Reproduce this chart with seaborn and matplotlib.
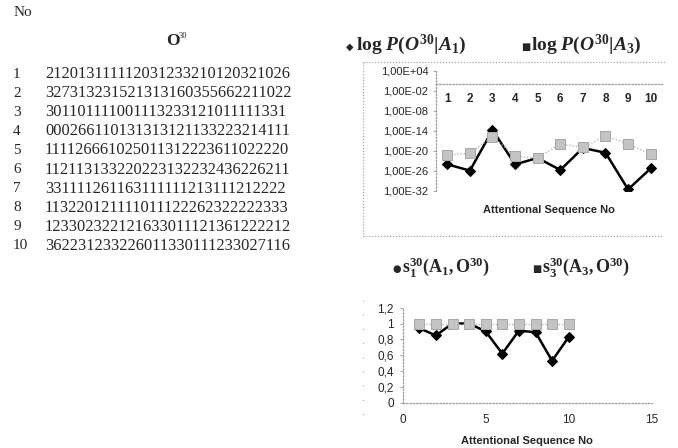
import matplotlib
matplotlib.use("Agg")
import matplotlib.pyplot as plt
from matplotlib.lines import Line2D
from matplotlib.ticker import FixedLocator, NullLocator
import seaborn as sns

# ---- data -------------------------------------------------------------
seq_no = [1, 2, 3, 4, 5, 6, 7, 8, 9, 10]

sequences = [
    "212013111112031233210120321026",
    "327313231521313160355662211022",
    "301101111001113233121011111331",
    "000266110131313121133223214111",
    "111126661025011312223611022220",
    "112113133220223132232436226211",
    "331111261163111111213111212222",
    "113220121111011122262322222333",
    "123302322121633011121361222212",
    "362231233226011330111233027116",
]

# log P(O^30 | A_1) and log P(O^30 | A_3)
p_a1 = [1e-24, 1.3e-26, 2e-14, 1e-24, 8e-23, 2e-26, 8e-20, 3e-21, 3e-32, 6e-26]
p_a3 = [6e-22, 2e-21, 2e-16, 2.5e-22, 8e-23, 1.3e-18, 1.3e-19, 3e-16, 1.3e-18, 1e-21]

# similarity scores s_1^30(A_1, O^30) and s_3^30(A_3, O^30)
s_a1 = [0.94, 0.85, 1.0, 1.0, 0.90, 0.62, 0.91, 0.89, 0.53, 0.83]
s_a3 = [1.0, 1.0, 1.0, 1.0, 1.0, 1.0, 1.0, 1.0, 1.0, 1.0]

log_ticks = [1e4, 1e-2, 1e-8, 1e-14, 1e-20, 1e-26, 1e-32]
log_tick_labels = ["1,00E+04", "1,00E-02", "1,00E-08", "1,00E-14",
                   "1,00E-20", "1,00E-26", "1,00E-32"]
s_ticks = [0, 0.2, 0.4, 0.6, 0.8, 1.0, 1.2]
s_tick_labels = ["0", "0,2", "0,4", "0,6", "0,8", "1", "1,2"]
x_ticks = [0, 5, 10, 15]
x_label = "Attentional Sequence No"

# ---- style ------------------------------------------------------------
sns.set_theme(style="white")
plt.rcParams["font.family"] = ["Liberation Sans", "DejaVu Sans"]
plt.rcParams["mathtext.fontset"] = "custom"
plt.rcParams["mathtext.rm"] = "Liberation Serif:bold"
plt.rcParams["mathtext.it"] = "Liberation Serif:italic:bold"
plt.rcParams["mathtext.bf"] = "Liberation Serif:bold"

W, H = 678, 448
fig = plt.figure(figsize=(W / 100, H / 100), dpi=100)
fig.patch.set_facecolor("white")


def fx(px):
    return px / W


def fy(py):
    return 1 - py / H


AXIS_GREY = "#9a9a9a"
SQ_FACE = "#c4c4c4"
SQ_EDGE = "#a8a8a8"
SERIF = ["Liberation Serif", "DejaVu Serif"]
SYM = ["DejaVu Sans"]

# ---- left: table of observation sequences ------------------------------
fig.text(fx(14), fy(13), "No", family=SERIF, fontsize=11, va="center")
fig.text(fx(166), fy(41), "O", family=SERIF, fontsize=12.5, weight="bold", va="center")
fig.text(fx(179), fy(36), "30", family=SERIF, fontsize=6, va="center")
row_y0, row_dy = 74, 19.1
for i, (n, s) in enumerate(zip(seq_no, sequences)):
    y = row_y0 + i * row_dy
    fig.text(fx(13), fy(y), str(n), family=SERIF, fontsize=11, va="center")
    fig.text(fx(45), fy(y), s, family=SERIF, fontsize=11.8, va="center")

# ---- top right: log-probabilities -------------------------------------
ax1 = fig.add_axes([fx(436), fy(191), (662 - 436) / W, (191 - 71) / H])
sns.lineplot(x=seq_no, y=p_a1, ax=ax1, color="black", marker="D", markersize=5.5,
             markeredgecolor="black", linewidth=1.8, zorder=3)
sns.lineplot(x=seq_no, y=p_a3, ax=ax1, color=SQ_EDGE, marker="s", markersize=6.5,
             markerfacecolor=SQ_FACE, markeredgecolor=SQ_EDGE, linewidth=0.9,
             linestyle=":", zorder=4)
ax1.set_yscale("log")
ax1.set_ylim(1e-32, 1e4)
ax1.set_xlim(0.5, 10.5)
ax1.yaxis.set_major_locator(FixedLocator(log_ticks))
ax1.yaxis.set_minor_locator(NullLocator())
ax1.set_yticklabels(log_tick_labels)
ax1.set_xticks(seq_no)
ax1.set_xticklabels([str(n) for n in seq_no])
ax1.spines["bottom"].set_position(("data", 1.0))
for side in ("top", "right"):
    ax1.spines[side].set_visible(False)
for side in ("left", "bottom"):
    ax1.spines[side].set_color(AXIS_GREY)
    ax1.spines[side].set_linestyle(":")
    ax1.spines[side].set_linewidth(0.9)
ax1.tick_params(axis="y", left=True, length=2.5, width=0.6, color=AXIS_GREY,
                pad=3, labelsize=8)
ax1.tick_params(axis="x", bottom=False, length=0, pad=6, labelsize=8.5)
for lab in ax1.get_xticklabels():
    lab.set_fontweight("bold")
ax1.set_xlabel("")
ax1.set_ylabel("")
ax1.patch.set_alpha(0)
fig.text(fx(549), fy(210), x_label, fontsize=8, weight="bold", ha="center", va="center")

# chart frame
frame = dict(color=AXIS_GREY, linestyle=":", linewidth=0.8, transform=fig.transFigure)
fig.add_artist(Line2D([fx(363), fx(363)], [fy(62), fy(236)], **frame))
fig.add_artist(Line2D([fx(363), fx(665)], [fy(62), fy(62)], **frame))
fig.add_artist(Line2D([fx(363), fx(662)], [fy(236), fy(236)], **frame))

# legend
fig.text(fx(346), fy(47), "\u25c6", family=SYM, fontsize=7, va="center")
fig.text(fx(356), fy(45),
         r"$\mathrm{log}\ P(O^{30}|A_1)$", fontsize=14, va="center")
fig.text(fx(521), fy(47), "\u25a0", family=SYM, fontsize=7, va="center")
fig.text(fx(531), fy(45),
         r"$\mathrm{log}\ P(O^{30}|A_3)$", fontsize=14, va="center")

# ---- bottom right: similarity scores ----------------------------------
ax2 = fig.add_axes([fx(402.7), fy(402.7), (651.7 - 402.7) / W, (402.7 - 307.7) / H])
sns.lineplot(x=seq_no, y=s_a1, ax=ax2, color="black", marker="D", markersize=5.5,
             markeredgecolor="black", linewidth=1.8, zorder=3)
sns.lineplot(x=seq_no, y=s_a3, ax=ax2, color=SQ_EDGE, marker="s", markersize=6.5,
             markerfacecolor=SQ_FACE, markeredgecolor=SQ_EDGE, linewidth=0.9,
             linestyle=":", zorder=4)
ax2.set_xlim(0, 15)
ax2.set_ylim(0, 1.2)
ax2.set_xticks(x_ticks)
ax2.set_xticklabels([str(t) for t in x_ticks])
ax2.set_yticks(s_ticks)
ax2.set_yticklabels(s_tick_labels)
for side in ("top", "right"):
    ax2.spines[side].set_visible(False)
for side in ("left", "bottom"):
    ax2.spines[side].set_color(AXIS_GREY)
    ax2.spines[side].set_linestyle(":")
    ax2.spines[side].set_linewidth(0.9)
ax2.tick_params(axis="y", left=True, length=2.5, width=0.6, color=AXIS_GREY,
                pad=4, labelsize=8.5)
ax2.tick_params(axis="x", bottom=False, length=0, pad=8, labelsize=8.5)
ax2.set_xlabel("")
ax2.set_ylabel("")
ax2.patch.set_alpha(0)
fig.text(fx(527), fy(441), x_label, fontsize=8, weight="bold", ha="center", va="center")

fig.add_artist(Line2D([fx(363), fx(363)], [fy(300), fy(425)], color=AXIS_GREY,
                      linewidth=0.8, dashes=(0.8, 12), transform=fig.transFigure))

fig.text(fx(392), fy(269), "\u25cf", family=SYM, fontsize=7, va="center")
fig.text(fx(402), fy(267), r"$\mathrm{s}_1^{30}(\mathrm{A}_1,\mathrm{O}^{30})$",
         fontsize=13, va="center")
fig.text(fx(532), fy(269), "\u25a0", family=SYM, fontsize=7, va="center")
fig.text(fx(542), fy(267), r"$\mathrm{s}_3^{30}(\mathrm{A}_3,\mathrm{O}^{30})$",
         fontsize=13, va="center")

fig.savefig("out.png", dpi=100, facecolor="white")
